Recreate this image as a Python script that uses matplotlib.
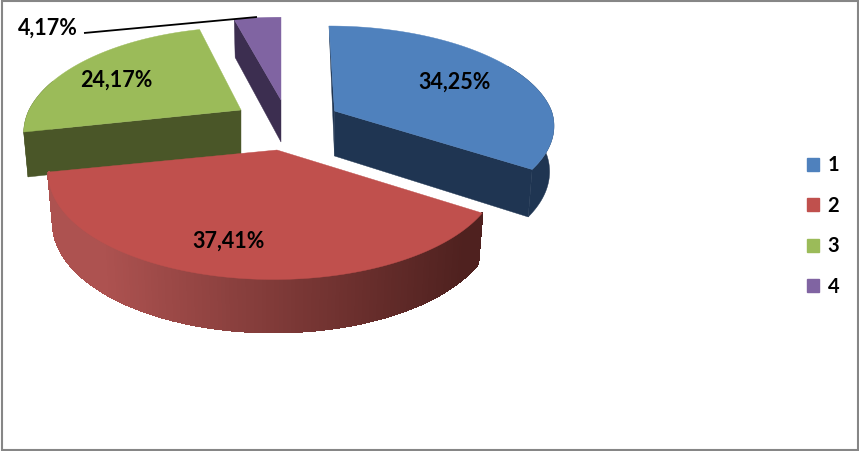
import numpy as np
import matplotlib
matplotlib.use("Agg")
import matplotlib.pyplot as plt
from matplotlib.patches import Polygon, Patch, Rectangle
from matplotlib.colors import to_rgb

# Data
categories = ["1", "2", "3", "4"]
values = [34.25, 37.41, 24.17, 4.17]

# Styles
top_colors = ["#4F81BD", "#C0504D", "#9BBB59", "#8064A2"]
wall_colors = ["#1F3552", "#8A4140", "#4A5628", "#3C2E50"]
red_wall_left = "#AD5250"
red_wall_right = "#4F211F"

# Projection of each exploded slice (pixel space)
apex = [(334.5, 111), (277, 150), (241, 110), (281, 100)]
rim_shift = [0, -3.5, 0, 0]
half_width = [217, 219.6, 212, 219]
depth = [45, 48, 44, 42]
lean = [5.5, 0, -4, 0]
B_list = [97.75, 101, 101, 101]
K_list = [0.15, 0.22, 0.22, 0.22]
BOTTOM_SCALE = 0.98

plt.rcParams["font.family"] = ["Lato", "DejaVu Sans"]
fig = plt.figure(figsize=(8.59, 4.51), dpi=100)
ax = fig.add_axes([0, 0, 1, 1])
ax.set_xlim(0, 859)
ax.set_ylim(451, 0)
ax.axis("off")


def rim(i, theta, lower=False):
    theta = np.asarray(theta, dtype=float)
    u, v = np.sin(theta), -np.cos(theta)
    w = 1 - K_list[i] * v
    dx = half_width[i] * u / w + lean[i] * np.minimum(v, 0)
    dy = B_list[i] * v / w
    cx = apex[i][0] + rim_shift[i]
    if lower:
        return np.c_[cx + BOTTOM_SCALE * dx,
                     apex[i][1] + dy + depth[i] * (1 + 0.1 * v)]
    return np.c_[cx + dx, apex[i][1] + dy]


edges = np.r_[0, np.cumsum(values)] / sum(values) * 2 * np.pi


def draw_slice(i, z):
    t0, t1 = edges[i], edges[i + 1]
    th = np.linspace(t0, t1, 160)
    a = np.array(apex[i], dtype=float)
    a_low = a + [0, depth[i]]
    wall = wall_colors[i]
    # cut faces
    if i == 0:
        start = rim(i, [t0])[0]
        ax.add_patch(Polygon([start, a_low, a], fc=wall, ec=wall, lw=0.3, zorder=z))
        ax.add_patch(Polygon([a, a_low, rim(i, [t1], True)[0], rim(i, [t1])[0]],
                             fc=wall, ec=wall, lw=0.3, zorder=z))
    elif i in (2, 3):
        ax.add_patch(Polygon([a, a_low, rim(i, [t0], True)[0], rim(i, [t0])[0]],
                             fc=wall, ec=wall, lw=0.3, zorder=z))
    # outer wall
    if i == 1:
        up, lo = rim(i, th), rim(i, th, True)
        xmin, xmax = up[:, 0].min(), up[:, 0].max()
        c0, c1 = np.array(to_rgb(red_wall_left)), np.array(to_rgb(red_wall_right))
        for k in range(len(th) - 1):
            f = np.clip((xmax - up[k, 0]) / (xmax - xmin) * 1.2 - 0.05, 0, 1)
            c = tuple(c1 + (c0 - c1) * f)
            ax.add_patch(Polygon([up[k], up[k + 1], lo[k + 1], lo[k]],
                                 fc=c, ec=c, lw=1.0, antialiased=False, zorder=z))
    elif i == 0:
        sel = th[th > np.pi / 3]
        up, lo = rim(i, sel), rim(i, sel, True)
        ax.add_patch(Polygon(np.r_[up, lo[::-1]], fc=wall, ec=wall, lw=0.3, zorder=z))
    elif i == 2:
        sel = th[th < 1.6 * np.pi]
        up, lo = rim(i, sel), rim(i, sel, True)
        ax.add_patch(Polygon(np.r_[up, lo[::-1]], fc=wall, ec=wall, lw=0.3, zorder=z))
    # top
    ax.add_patch(Polygon(np.r_[[a], rim(i, th)], fc=top_colors[i], ec=top_colors[i],
                         lw=0.3, zorder=z + 0.5))


# back to front
for rank, idx in enumerate([3, 2, 0, 1]):
    draw_slice(idx, rank)

# Data labels
label_pos = [(455, 82), (229, 241), (116, 80), (48, 28)]
for val, pos in zip(values, label_pos):
    ax.text(pos[0], pos[1], f"{val:.2f}%".replace(".", ","), ha="center", va="center",
            fontsize=15.5, fontweight="bold", color="black", zorder=10)
ax.plot([84, 257], [33, 17], color="black", lw=1.3, zorder=9, solid_capstyle="butt")

# Legend
handles = [Patch(fc=c, ec=c) for c in top_colors]
leg = ax.legend(handles, categories, loc="center left",
                bbox_to_anchor=(807 / 859, 1 - 226 / 451), frameon=False,
                prop={"size": 14.5, "weight": "bold"},
                handlelength=0.62, handleheight=0.62, handletextpad=0.4,
                labelspacing=1.015, borderpad=0, borderaxespad=0)
leg.set_zorder(10)

# Chart frame
ax.add_patch(Rectangle((1.5, 1), 856, 449, fc="none", ec="#868686", lw=1.5, zorder=11,
                       clip_on=False))

fig.savefig("out.png", dpi=100, facecolor="white")
